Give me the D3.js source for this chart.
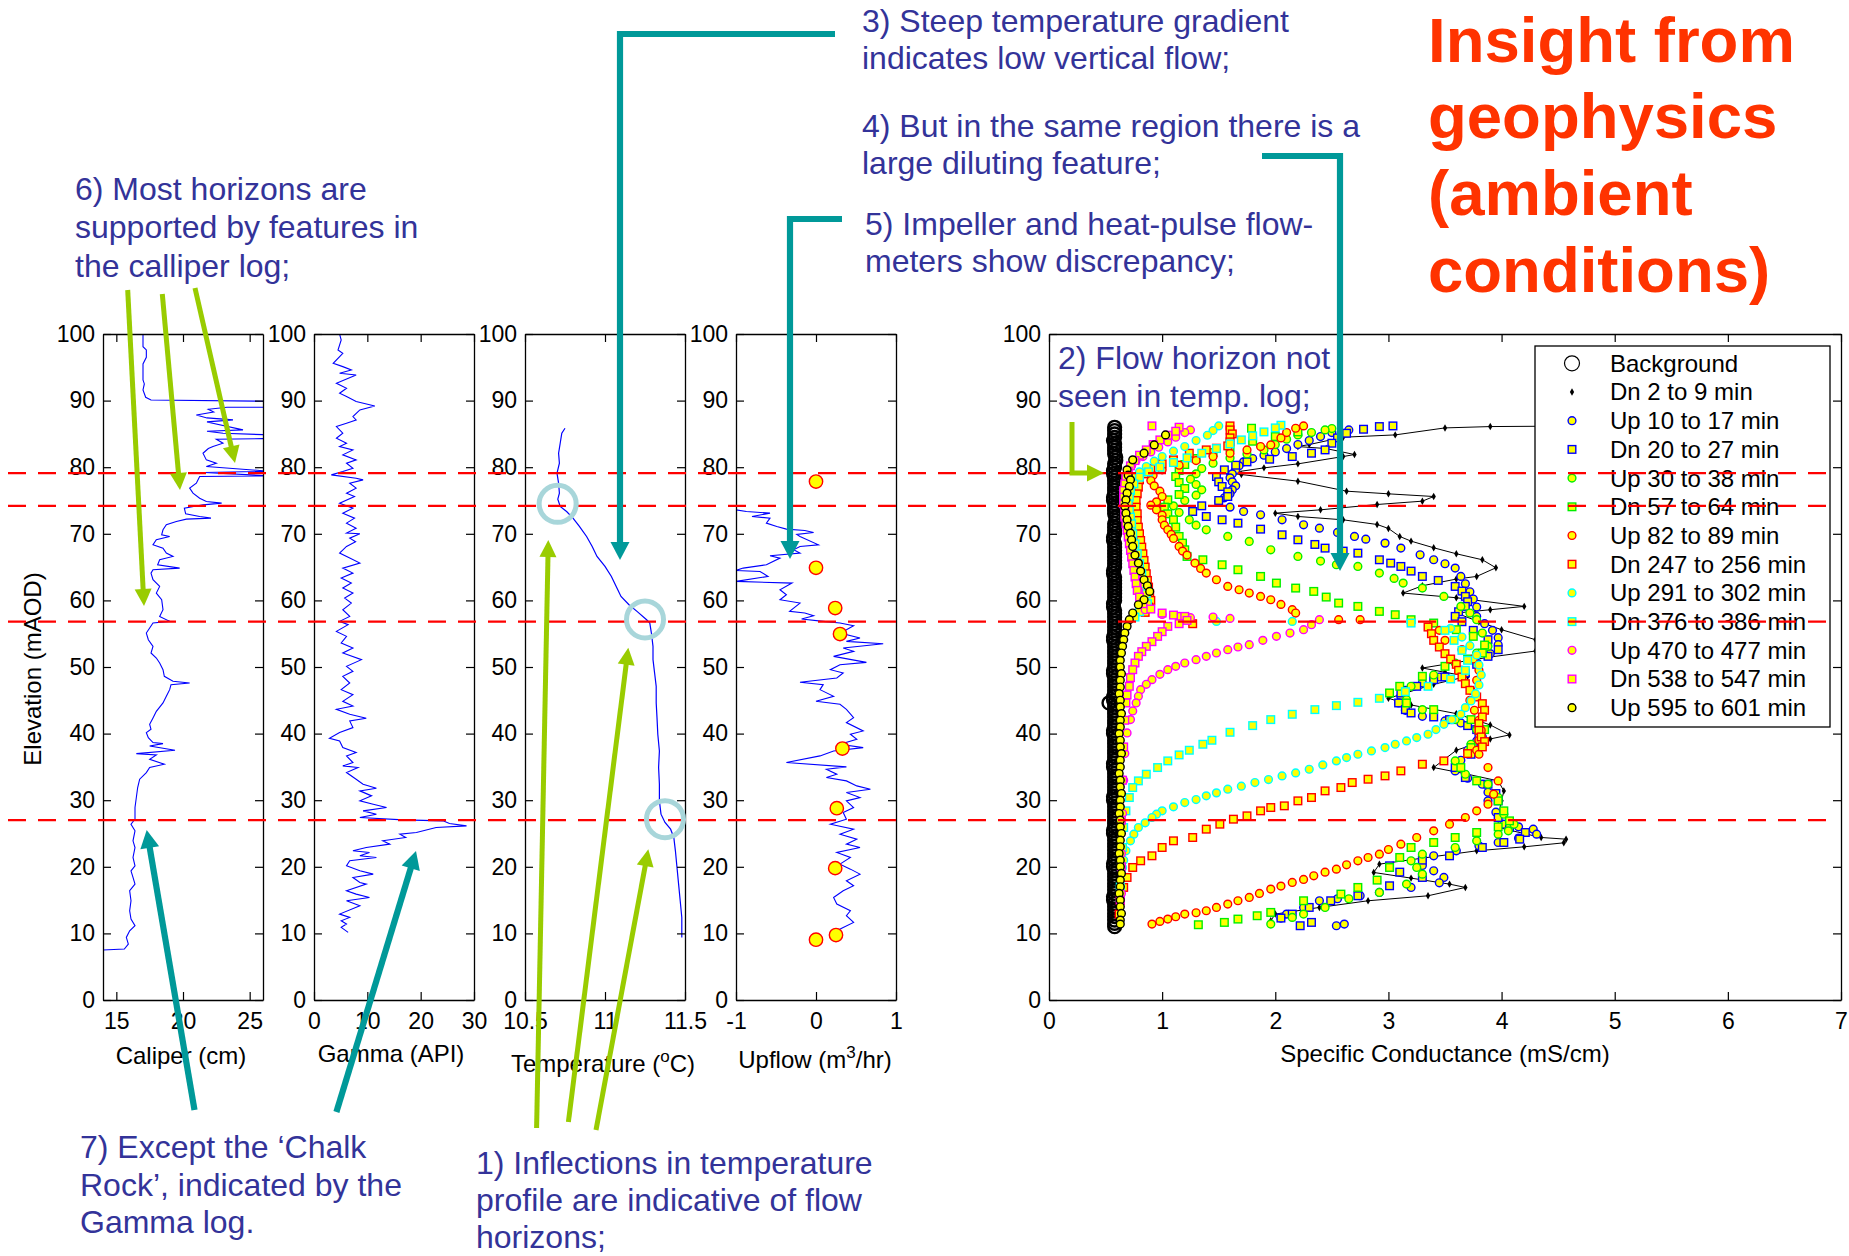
<!DOCTYPE html>
<html>
<head>
<meta charset="utf-8">
<script src="https://cdn.jsdelivr.net/npm/d3@7"></script>
<style>
  html, body { margin: 0; padding: 0; background: #fff; }
  svg { display: block; font-family: Arial, "Liberation Sans", Helvetica, sans-serif; }
</style>
</head>
<body>
<svg id="chart" width="1849" height="1256"></svg>
<script>
// ---------------------------------------------------------------
// Borehole geophysics logs: values are [reading, elevation (mAOD)]
// ---------------------------------------------------------------
const elevationDomain = [0, 100];
const elevationTicks = [0, 10, 20, 30, 40, 50, 60, 70, 80, 90, 100];

const caliperDomain = [14, 26];
const caliperTicks = [15, 20, 25];
const gammaDomain = [0, 30];
const gammaTicks = [0, 10, 20, 30];
const temperatureDomain = [10.5, 11.5];
const temperatureTicks = [10.5, 11, 11.5];
const upflowDomain = [-1, 1];
const upflowTicks = [-1, 0, 1];
const scDomain = [0, 7];
const scTicks = [0, 1, 2, 3, 4, 5, 6, 7];

// flow horizons (mAOD)
const horizonElevations = [79.1, 74.2, 56.8, 27.0];

const caliperLog = [[17.0,100],[17.0,98.1],[17.25,97.6],[17.25,96.5],[17.0,95.5],[17.0,93.1],[17.1,92.5],[17.0,91.6],[17.2,90.5],[17.6,90.1],[26.5,89.9],[26.5,89.0],[23.3,89.0],[21.9,88.7],[22.3,88.3],[21.0,87.85],[21.8,87.4],[23.75,87.1],[21.8,86.8],[24.5,85.6],[21.8,85.4],[23.0,85.1],[26.5,84.85],[26.5,84.3],[22.5,84.2],[23.0,83.6],[22.25,83.1],[21.9,82.8],[21.5,82.1],[21.75,81.1],[22.5,80.6],[21.75,80.1],[26.5,79.4],[21.6,79.2],[26.5,78.7],[21.25,78.6],[21.0,77.6],[20.5,76.85],[20.75,76.1],[21.25,75.35],[21.75,74.85],[22.9,74.6],[21.5,74.35],[20.1,73.85],[20.2,73.0],[21.25,72.6],[22.1,72.35],[20.25,72.2],[19.5,71.85],[18.75,71.35],[18.5,70.6],[18.4,69.85],[19.0,69.6],[18.0,69.1],[17.75,68.35],[18.5,67.85],[18.75,67.1],[19.25,66.6],[18.25,66.1],[18.1,65.35],[19.75,64.85],[17.75,64.6],[17.6,64.1],[17.75,63.1],[18.25,62.1],[18.0,61.1],[18.4,60.1],[18.5,58.6],[18.25,57.6],[19.0,56.85],[17.75,56.6],[17.5,55.85],[17.25,55.1],[17.4,54.1],[17.75,53.1],[17.6,52.1],[18.0,51.35],[18.25,50.6],[18.5,49.6],[18.6,48.6],[19.25,47.85],[20.5,47.6],[19.1,47.35],[19.0,46.6],[18.75,45.6],[18.5,44.6],[18.0,43.35],[17.75,42.35],[17.5,41.4],[17.6,40.65],[17.25,40.15],[17.4,39.4],[17.75,38.65],[18.5,38.5],[17.5,38.15],[19.4,37.5],[16.5,37.0],[18.0,36.8],[17.5,36.15],[18.6,35.4],[17.5,34.9],[17.25,34.15],[16.75,33.15],[16.6,31.9],[16.5,30.4],[16.4,28.9],[16.4,27.15],[16.1,26.4],[16.4,25.4],[16.25,23.9],[16.4,22.9],[16.25,21.4],[16.4,20.15],[16.1,19.4],[16.25,18.4],[16.4,17.4],[16.0,16.4],[16.1,14.9],[16.0,13.4],[16.1,12.15],[16.4,11.15],[16.0,10.4],[15.75,9.4],[15.9,8.4],[15.6,7.65],[14.0,7.5]];

const gammaLog = [[4.8,100],[5.1,99.1],[4.5,97.6],[5.4,97.1],[3.6,95.6],[5.4,95.1],[7.0,94.6],[4.8,94.1],[7.9,93.85],[4.2,92.6],[6.1,91.85],[4.8,91.1],[6.1,90.6],[7.9,89.85],[11.4,89.2],[8.6,88.6],[7.3,87.6],[7.9,87.1],[6.1,86.6],[4.2,86.1],[5.4,85.1],[4.2,84.35],[6.1,83.6],[4.8,83.1],[7.3,82.6],[5.4,81.85],[7.9,81.1],[6.1,80.6],[7.3,79.85],[5.4,79.35],[3.25,78.85],[7.9,78.35],[9.2,78.1],[6.7,77.6],[7.9,76.85],[6.1,76.1],[7.6,75.6],[4.8,74.6],[7.3,73.85],[5.4,73.1],[7.6,72.35],[6.1,71.6],[7.9,70.85],[6.1,70.1],[8.6,70.0],[6.7,69.35],[7.8,68.8],[6.1,68.1],[4.8,67.1],[6.7,66.35],[8.6,65.6],[5.4,64.85],[7.3,64.1],[5.1,63.35],[7.0,62.6],[5.4,61.85],[7.3,61.1],[5.75,60.35],[7.0,59.6],[5.4,58.6],[6.7,57.6],[4.8,56.85],[6.4,56.35],[4.2,55.35],[6.1,54.6],[5.1,53.6],[7.3,52.85],[5.4,52.1],[8.9,51.1],[6.1,50.1],[7.3,49.35],[5.4,48.6],[6.7,47.6],[5.1,46.6],[7.3,45.85],[5.4,44.85],[7.3,44.15],[4.2,43.65],[6.7,42.9],[9.8,42.3],[6.7,41.9],[7.3,40.9],[4.8,40.15],[2.9,39.3],[4.8,38.9],[5.4,37.9],[7.9,37.15],[6.1,36.65],[7.3,35.65],[5.4,35.15],[8.25,34.9],[6.1,34.15],[7.9,33.15],[9.2,32.4],[11.7,31.8],[8.6,31.4],[10.8,30.65],[8.6,29.9],[11.1,29.4],[13.6,28.9],[9.2,28.4],[11.7,27.9],[8.6,27.4],[16.7,27.05],[24.2,26.9],[25.4,26.5],[28.6,26.15],[22.9,25.9],[19.2,25.15],[16.1,24.9],[17.2,24.4],[12.9,23.9],[14.2,23.4],[9.8,22.9],[7.3,22.4],[10.4,22.15],[8.6,21.65],[11.7,21.4],[6.7,20.9],[6.1,20.15],[8.6,19.4],[11.1,18.9],[7.3,18.4],[8.6,17.65],[9.8,17.4],[6.1,16.4],[7.9,15.9],[10.4,15.4],[6.1,14.9],[8.6,14.15],[4.8,12.9],[6.7,12.4],[5.1,11.9],[6.1,11.4],[5.1,10.9],[6.4,10.15]];

const temperatureLog = [[10.75,85.85],[10.73,85.1],[10.72,83.6],[10.71,82.1],[10.715,80.6],[10.70,79.1],[10.71,77.6],[10.715,76.1],[10.705,75.2],[10.72,74.1],[10.76,73.35],[10.80,72.35],[10.84,71.1],[10.885,69.6],[10.92,68.1],[10.95,66.6],[11.0,65.1],[11.04,63.6],[11.07,62.1],[11.1,60.6],[11.15,59.35],[11.2,58.35],[11.26,57.1],[11.28,56.6],[11.29,55.1],[11.30,53.1],[11.30,51.1],[11.31,49.1],[11.32,47.1],[11.32,44.6],[11.325,42.4],[11.33,39.9],[11.34,37.4],[11.335,34.9],[11.34,32.4],[11.34,29.9],[11.35,27.9],[11.375,26.65],[11.41,25.65],[11.43,24.4],[11.44,22.4],[11.45,19.9],[11.46,17.4],[11.47,14.9],[11.48,12.4],[11.48,9.4]];

// inflection points marked on the temperature profile
const temperatureInflections = [[10.704,74.5],[11.25,57.15],[11.375,27.15]];

const impellerUpflow = [[-1.0,73.6],[-0.87,73.35],[-0.575,73.1],[-0.8,72.6],[-0.575,72.35],[-0.62,71.6],[-0.49,71.1],[-0.37,70.7],[-0.14,70.5],[-0.03,70.2],[-0.24,69.9],[-0.2,69.6],[0.03,68.35],[-0.2,68.1],[-0.28,67.6],[-0.2,67.1],[-0.575,66.7],[-0.45,66.35],[-0.62,65.35],[-0.91,64.85],[-1.0,64.5],[-0.7,64.35],[-0.6,63.6],[-1.0,62.85],[-0.3,62.6],[-0.45,61.6],[-0.37,60.85],[-0.45,60.1],[-0.2,59.6],[-0.33,58.35],[-0.14,58.1],[-0.03,57.7],[-0.18,57.2],[0.09,56.85],[0.3,56.6],[0.47,56.2],[0.38,55.6],[0.3,55.1],[0.55,54.35],[0.38,53.85],[0.84,53.5],[0.34,52.85],[0.47,52.35],[0.22,51.6],[0.63,50.7],[0.3,50.35],[0.18,49.6],[0.34,49.1],[0.26,48.35],[-0.2,47.7],[0.09,47.35],[0.05,46.6],[0.22,45.6],[0.0,44.85],[0.3,44.4],[0.38,43.65],[0.47,42.4],[0.38,41.65],[0.59,40.4],[0.43,39.9],[0.51,39.15],[0.3,38.4],[0.59,37.9],[0.22,37.4],[0.05,36.65],[-0.37,35.65],[0.38,35.0],[0.13,34.65],[0.26,33.9],[0.13,33.4],[0.38,32.9],[0.51,32.15],[0.68,31.65],[0.38,31.15],[0.55,30.4],[0.38,29.9],[0.47,28.9],[0.34,28.15],[0.38,27.15],[0.18,26.4],[0.47,25.65],[0.3,24.9],[0.51,24.15],[0.38,23.4],[0.55,22.9],[0.26,22.15],[0.43,21.4],[0.3,20.4],[0.43,19.65],[0.55,18.9],[0.38,17.9],[0.47,17.15],[0.34,16.4],[0.22,15.4],[0.26,14.4],[0.43,13.4],[0.38,12.65],[0.47,11.65],[0.34,10.9],[0.26,10.4]];

const heatPulseUpflow = [[0.0,77.85],[0.0,64.9],[0.24,58.85],[0.3,54.95],[0.33,37.75],[0.26,28.8],[0.24,19.8],[0.25,9.75],[0.0,9.05]];

// ---------------------------------------------------------------
// Specific conductance profiles: [SC (mS/cm), elevation (mAOD)]
// ---------------------------------------------------------------
const legendLabels = ['Background','Dn 2 to 9 min','Up 10 to 17 min','Dn 20 to 27 min','Up 30 to 38 min','Dn 57 to 64 min','Up 82 to 89 min','Dn 247 to 256 min','Up 291 to 302 min','Dn 376 to 386 min','Up 470 to 477 min','Dn 538 to 547 min','Up 595 to 601 min'];

const scBackground = [[0.58,86],[0.58,85.5],[0.58,85],[0.58,84.5],[0.57,84],[0.58,83.5],[0.58,83],[0.58,82.5],[0.58,82],[0.59,81.5],[0.59,81],[0.58,80.5],[0.58,80],[0.57,79.5],[0.57,79],[0.58,78.5],[0.58,78],[0.58,77.5],[0.58,77],[0.58,76.5],[0.58,76],[0.57,75.5],[0.57,75],[0.58,74.5],[0.58,74],[0.58,73.5],[0.58,73],[0.59,72.5],[0.59,72],[0.58,71.5],[0.58,71],[0.58,70.5],[0.58,70],[0.57,69.5],[0.57,69],[0.58,68.5],[0.58,68],[0.58,67.5],[0.58,67],[0.58,66.5],[0.58,66],[0.58,65.5],[0.58,65],[0.57,64.5],[0.57,64],[0.58,63.5],[0.58,63],[0.58,62.5],[0.58,62],[0.58,61.5],[0.58,61],[0.58,60.5],[0.58,60],[0.57,59.5],[0.57,59],[0.58,58.5],[0.58,58],[0.58,57.5],[0.58,57],[0.58,56.5],[0.58,56],[0.58,55.5],[0.58,55],[0.57,54.5],[0.57,54],[0.58,53.5],[0.58,53],[0.58,52.5],[0.58,52],[0.58,51.5],[0.58,51],[0.58,50.5],[0.58,50],[0.57,49.5],[0.57,49],[0.58,48.5],[0.58,48],[0.58,47.5],[0.58,47],[0.58,46.5],[0.58,46],[0.57,45.5],[0.57,45],[0.53,44.6],[0.58,44.5],[0.58,44],[0.58,43.5],[0.58,43],[0.58,42.5],[0.58,42],[0.58,41.5],[0.58,41],[0.57,40.5],[0.57,40],[0.58,39.5],[0.58,39],[0.58,38.5],[0.58,38],[0.58,37.5],[0.58,37],[0.58,36.5],[0.58,36],[0.57,35.5],[0.57,35],[0.58,34.5],[0.58,34],[0.58,33.5],[0.58,33],[0.58,32.5],[0.58,32],[0.58,31.5],[0.58,31],[0.57,30.5],[0.57,30],[0.58,29.5],[0.58,29],[0.58,28.5],[0.58,28],[0.58,27.5],[0.58,27],[0.58,26.5],[0.58,26],[0.57,25.5],[0.57,25],[0.58,24.5],[0.58,24],[0.58,23.5],[0.58,23],[0.58,22.5],[0.58,22],[0.58,21.5],[0.58,21],[0.57,20.5],[0.57,20],[0.58,19.5],[0.58,19],[0.58,18.5],[0.58,18],[0.58,17.5],[0.58,17],[0.58,16.5],[0.58,16],[0.57,15.5],[0.57,15],[0.58,14.5],[0.58,14],[0.58,13.5],[0.58,13],[0.58,12.5],[0.58,12],[0.58,11.5],[0.58,11]];

const scDn2to9 = [[4.8,86.2],[3.9,86.1],[3.5,85.9],[3.06,84.85],[2.6,84.5],[2.3,83.4],[2.2,83.1],[2.45,82.8],[2.7,81.9],[2.6,81.6],[2.2,80.5],[1.9,79.9],[1.58,79.1],[1.7,78.9],[2.2,77.9],[2.63,76.4],[3.0,76.0],[3.4,75.6],[3.3,74.9],[2.9,74.4],[2.4,73.6],[2.0,73.1],[2.2,72.6],[2.6,72.1],[2.9,71.4],[3.0,70.8],[3.1,69.6],[3.2,68.9],[3.4,67.9],[3.6,67.0],[3.83,66.1],[3.95,64.9],[3.78,63.6],[3.6,63.2],[3.3,62.2],[3.13,61.1],[3.6,60.4],[4.2,59.1],[3.9,58.6],[3.6,58.1],[3.8,56.8],[4.0,55.6],[4.3,54.1],[4.6,53.8],[4.6,52.6],[4.3,52.4],[3.9,51.5],[3.3,49.85],[3.5,49.2],[3.7,48.6],[3.4,47.4],[3.0,45.3],[3.2,44.3],[3.6,43.0],[3.9,41.3],[4.07,39.8],[3.9,39.2],[3.6,37.5],[3.4,34.9],[3.7,33.9],[3.97,32.9],[4.02,31.4],[4.0,29.9],[3.97,27.5],[3.97,25.9],[4.35,24.4],[4.57,24.15],[4.55,23.6],[4.2,23.0],[3.78,22.4],[3.3,21.3],[2.92,20.4],[2.87,19.15],[3.2,18.3],[3.54,17.4],[3.68,16.9],[3.35,15.65],[2.82,14.9],[2.39,13.9],[2.0,12.9],[1.96,11.9]];

const scUp10to17 = [[2.65,85.6],[2.5,85.2],[2.4,84.6],[2.3,84.0],[2.2,83.4],[2.1,82.8],[2.0,82.3],[1.9,81.8],[1.8,81.3],[1.72,80.8],[1.68,80.2],[1.65,79.6],[1.62,79.0],[1.6,78.4],[1.62,77.8],[1.65,77.2],[1.62,76.6],[1.6,76.0],[1.55,75.4],[1.5,74.8],[1.6,74.0],[1.72,73.35],[1.87,72.85],[2.06,72.1],[2.25,71.35],[2.39,70.85],[2.55,70.2],[2.7,69.6],[2.8,69.2],[2.97,68.6],[3.11,67.85],[3.28,66.85],[3.4,66.1],[3.5,65.5],[3.59,64.85],[3.64,63.6],[3.68,62.5],[3.72,61.3],[3.75,60.2],[3.78,59.0],[3.78,57.6],[3.85,56.5],[3.92,55.5],[3.97,54.4],[3.97,53.35],[3.9,52.0],[3.78,50.6],[3.64,49.5],[3.45,48.5],[3.3,47.6],[3.15,46.5],[3.11,45.6],[3.09,44.6],[3.15,43.5],[3.3,42.6],[3.5,41.9],[3.64,41.6],[3.83,40.6],[3.83,39.5],[3.78,38.9],[3.7,37.5],[3.64,36.0],[3.59,34.4],[3.7,33.3],[3.83,32.4],[3.88,31.2],[3.88,29.9],[3.95,28.2],[4.02,26.4],[4.15,26.0],[4.28,25.65],[4.31,24.9],[4.15,24.3],[3.97,23.65],[3.8,23.15],[3.6,22.4],[3.4,21.65],[3.3,21.0],[3.3,20.2],[3.4,19.4],[3.49,18.4],[3.45,17.6],[3.2,16.9],[2.92,16.15],[2.75,15.65],[2.55,15.2],[2.39,14.9],[2.25,13.9],[2.1,12.9],[2.05,12.3],[2.54,11.15],[2.61,11.4]];

const scDn20to27 = [[3.04,86.2],[2.92,86.1],[2.78,85.7],[2.63,85.1],[2.55,84.4],[2.5,83.6],[2.44,82.6],[2.32,82.1],[2.15,81.6],[1.95,81.2],[1.75,80.8],[1.65,80.3],[1.55,79.6],[1.48,78.6],[1.5,77.8],[1.53,77.1],[1.58,76.3],[1.58,75.6],[1.5,75.0],[1.35,74.2],[1.27,73.35],[1.39,72.6],[1.53,72.1],[1.67,71.6],[1.87,70.7],[2.06,69.85],[2.2,69.1],[2.35,68.4],[2.44,67.85],[2.6,67.4],[2.73,67.1],[2.92,66.1],[3.02,65.6],[3.11,65.1],[3.2,64.4],[3.3,63.6],[3.44,63.0],[3.59,62.1],[3.65,61.4],[3.68,60.6],[3.7,59.8],[3.68,59.1],[3.62,58.3],[3.59,57.6],[3.65,56.8],[3.75,55.5],[3.88,54.1],[3.97,52.6],[3.88,51.6],[3.78,50.4],[3.68,49.1],[3.5,48.5],[3.4,48.1],[3.25,47.1],[3.11,46.1],[3.09,44.6],[3.15,43.6],[3.2,43.1],[3.4,42.5],[3.54,42.1],[3.7,41.2],[3.78,40.6],[3.8,39.4],[3.75,38.1],[3.73,36.9],[3.59,34.9],[3.68,33.4],[3.88,32.4],[3.95,31.0],[3.97,29.9],[3.97,27.4],[4.07,25.9],[4.21,25.15],[4.16,24.15],[4.02,23.65],[3.83,22.9],[3.54,21.65],[3.3,21.0],[3.01,20.15],[3.1,19.2],[3.3,18.4],[3.01,17.15],[2.73,15.65],[2.49,14.9],[2.3,13.9],[2.15,12.9],[2.05,12.3],[2.22,11.15],[2.32,11.65]];

const scUp30to38 = [[2.5,85.8],[2.44,85.6],[2.32,85.2],[2.2,84.85],[2.1,84.2],[2.0,83.4],[1.9,82.6],[1.75,82.0],[1.6,81.4],[1.45,80.6],[1.35,79.8],[1.3,79.0],[1.25,78.2],[1.3,77.4],[1.35,76.6],[1.3,75.8],[1.2,75.0],[1.1,74.2],[1.15,73.2],[1.24,72.1],[1.3,71.3],[1.39,70.6],[1.58,69.6],[1.77,68.85],[1.96,67.6],[2.2,66.6],[2.4,65.9],[2.54,65.35],[2.73,65.1],[2.92,64.1],[3.05,63.3],[3.13,62.6],[3.3,61.85],[3.49,60.6],[3.64,59.1],[3.72,58.1],[3.78,57.1],[3.83,55.1],[3.88,53.1],[3.78,52.1],[3.59,50.6],[3.4,48.8],[3.2,47.1],[3.16,45.1],[3.3,43.6],[3.59,42.1],[3.78,40.6],[3.73,38.4],[3.59,35.9],[3.68,33.9],[3.88,32.4],[3.97,30.4],[4.02,27.9],[4.11,26.4],[4.06,25.4],[3.97,24.9],[3.78,23.9],[3.59,22.9],[3.3,21.9],[3.2,20.9],[3.25,19.9],[3.3,18.9],[3.16,17.4],[2.92,16.15],[2.65,15.2],[2.44,13.9],[2.25,12.9],[2.15,12.4],[1.96,11.4]];

const scDn57to64 = [[1.79,85.85],[2.2,85.3],[2.0,84.6],[1.8,83.9],[1.6,83.0],[1.45,82.2],[1.3,81.3],[1.2,80.4],[1.15,79.5],[1.12,78.6],[1.15,77.7],[1.2,76.8],[1.15,75.9],[1.05,75.1],[1.02,74.0],[1.05,73.0],[1.1,72.1],[1.12,71.0],[1.15,69.6],[1.18,68.6],[1.2,67.6],[1.22,66.6],[1.36,66.1],[1.53,65.35],[1.67,64.6],[1.87,63.6],[2.01,62.6],[2.18,61.85],[2.34,61.35],[2.45,60.5],[2.56,59.6],[2.73,59.1],[2.92,58.35],[3.06,57.85],[3.2,57.1],[3.4,56.6],[3.6,55.6],[3.75,54.6],[3.85,53.3],[3.83,52.1],[3.7,51.2],[3.5,50.1],[3.3,48.6],[3.1,47.1],[3.01,46.1],[3.16,44.6],[3.4,43.6],[3.73,42.1],[3.85,40.6],[3.73,37.9],[3.64,34.9],[3.78,32.9],[3.97,29.9],[4.02,28.4],[4.07,26.9],[3.97,26.0],[3.78,25.15],[3.59,24.4],[3.4,23.65],[3.2,22.9],[3.1,21.4],[3.01,19.9],[2.9,18.0],[2.73,16.9],[2.58,15.9],[2.25,14.9],[1.96,13.15],[1.84,12.65],[1.67,12.15],[1.55,11.65],[1.32,11.3]];

const scUp82to89 = [[2.25,86.2],[2.18,85.85],[2.1,85.2],[2.05,84.4],[1.96,83.35],[1.87,83.1],[1.75,82.6],[1.6,82.1],[1.45,81.6],[1.3,81.0],[1.15,80.3],[1.0,79.6],[0.92,78.8],[0.9,78.0],[0.93,77.2],[0.98,76.4],[1.0,75.6],[0.95,74.8],[0.9,74.3],[0.95,73.6],[1.0,72.8],[1.0,72.1],[1.02,71.3],[1.05,70.6],[1.08,69.9],[1.1,69.3],[1.15,68.1],[1.18,67.4],[1.22,66.8],[1.29,65.6],[1.34,64.8],[1.39,64.1],[1.48,63.1],[1.58,62.1],[1.68,61.6],[1.77,61.1],[1.87,60.6],[1.96,60.1],[2.05,59.4],[2.15,58.6],[2.18,58.1],[2.56,57.1],[2.75,57.1],[3.45,55.5],[3.5,54.0],[3.65,52.6],[3.75,51.2],[3.8,49.5],[3.78,48.0],[3.73,46.5],[3.72,45.0],[3.76,43.5],[3.8,42.0],[3.82,40.5],[3.8,39.0],[3.78,37.5],[3.8,36.9],[3.88,34.9],[3.97,32.9],[3.93,30.9],[3.88,29.4],[3.78,28.4],[3.68,27.4],[3.54,26.4],[3.4,25.4],[3.25,24.4],[3.11,23.4],[3.0,22.6],[2.92,21.9],[2.82,21.4],[2.73,20.9],[2.63,20.3],[2.54,19.65],[2.44,19.2],[2.34,18.65],[2.25,18.1],[2.15,17.65],[2.05,17.1],[1.96,16.65],[1.86,16.0],[1.77,15.4],[1.67,14.9],[1.58,14.4],[1.48,13.9],[1.39,13.4],[1.3,13.1],[1.2,12.9],[1.12,12.5],[1.05,12.15],[0.98,11.8],[0.91,11.4]];

const scDn247to256 = [[1.6,86.2],[1.6,85.6],[1.62,85.0],[1.6,84.4],[1.6,83.8],[1.58,83.2],[1.48,82.85],[1.39,82.6],[1.24,82.1],[1.1,81.1],[1.0,80.5],[0.9,79.8],[0.84,79.0],[0.8,78.1],[0.79,77.0],[0.78,76.0],[0.77,75.0],[0.77,74.0],[0.78,73.0],[0.78,72.0],[0.79,71.0],[0.8,70.0],[0.81,69.0],[0.82,68.0],[0.83,67.0],[0.84,66.0],[0.85,65.0],[0.86,64.0],[0.87,63.0],[0.88,62.0],[0.89,61.0],[0.9,60.0],[0.88,59.0],[0.85,58.2],[1.27,56.5],[3.35,56.0],[3.38,55.0],[3.4,54.0],[3.45,53.0],[3.5,52.0],[3.55,51.2],[3.6,50.4],[3.62,49.5],[3.65,48.5],[3.68,47.5],[3.72,46.5],[3.78,45.5],[3.83,44.5],[3.85,43.5],[3.83,42.5],[3.8,41.5],[3.8,40.5],[3.82,39.5],[3.85,38.8],[3.83,38.0],[3.7,37.0],[3.49,35.9],[3.3,35.4],[3.11,34.4],[2.97,33.65],[2.82,33.15],[2.68,32.65],[2.58,31.9],[2.44,31.4],[2.32,30.4],[2.2,29.9],[2.08,29.15],[1.96,28.9],[1.87,28.4],[1.75,27.65],[1.63,27.15],[1.51,26.4],[1.39,25.65],[1.27,24.4],[1.1,23.9],[1.0,22.9],[0.91,21.65],[0.81,20.9],[0.74,19.9],[0.69,18.4],[0.66,16.9],[0.63,14.9],[0.62,12.9]];

const scUp291to302 = [[1.5,86.2],[1.45,85.5],[1.4,84.8],[1.3,84.0],[1.2,83.1],[1.1,82.4],[1.0,81.6],[0.93,80.9],[0.86,80.1],[0.8,79.3],[0.75,78.5],[0.72,77.5],[0.7,76.5],[0.69,75.5],[0.69,74.5],[0.7,73.5],[0.71,72.5],[0.72,71.5],[0.73,70.5],[0.74,69.5],[0.75,68.5],[0.76,67.5],[0.77,66.5],[0.78,65.5],[0.79,64.5],[0.8,63.5],[0.81,62.5],[0.82,61.5],[0.83,60.5],[0.84,59.5],[0.8,58.5],[0.76,57.8],[1.48,56.85],[2.15,56.85],[3.55,55.8],[3.65,54.5],[3.72,53.2],[3.78,51.8],[3.8,50.3],[3.82,48.8],[3.8,47.3],[3.77,46.0],[3.73,44.9],[3.68,43.9],[3.64,42.9],[3.56,42.1],[3.49,41.4],[3.42,40.6],[3.35,39.9],[3.25,39.4],[3.16,38.9],[3.06,38.4],[2.97,37.9],[2.85,37.4],[2.73,36.9],[2.63,36.4],[2.54,35.9],[2.42,35.3],[2.3,34.65],[2.18,34.1],[2.06,33.65],[1.94,33.1],[1.82,32.65],[1.7,32.1],[1.58,31.65],[1.48,31.1],[1.39,30.65],[1.3,30.1],[1.2,29.65],[1.1,29.0],[1.0,28.4],[0.95,27.9],[0.91,27.4],[0.85,26.6],[0.79,25.9],[0.75,24.9],[0.72,23.9],[0.68,22.4],[0.66,21.0],[0.65,19.9],[0.63,17.0],[0.63,14.9]];

const scDn376to386 = [[2.05,86.3],[2.0,85.9],[1.9,85.3],[1.8,84.7],[1.7,84.1],[1.6,83.5],[1.48,82.8],[1.35,82.1],[1.22,81.4],[1.1,80.7],[0.98,80.0],[0.88,79.3],[0.8,78.5],[0.75,77.5],[0.72,76.5],[0.71,75.5],[0.7,74.5],[0.71,73.5],[0.72,72.5],[0.73,71.5],[0.74,70.0],[0.76,68.5],[0.78,67.0],[0.8,65.5],[0.82,64.0],[0.84,62.5],[0.86,61.0],[0.87,59.5],[0.8,58.3],[0.76,57.5],[3.2,56.6],[3.5,55.5],[3.58,54.0],[3.65,52.5],[3.7,51.0],[3.68,49.5],[3.55,48.2],[3.35,47.1],[3.15,46.3],[2.92,45.3],[2.73,44.7],[2.54,44.2],[2.35,43.6],[2.15,42.9],[1.96,42.1],[1.8,41.2],[1.6,40.2],[1.44,39.0],[1.36,38.4],[1.24,37.5],[1.15,36.8],[1.05,35.9],[0.96,34.9],[0.86,33.9],[0.79,32.9],[0.74,31.9],[0.71,30.4],[0.68,28.4],[0.66,25.9],[0.65,22.9],[0.64,20.0],[0.63,17.0]];

const scUp470to477 = [[1.25,85.6],[1.2,85.2],[1.12,84.5],[1.05,83.8],[0.97,83.0],[0.9,82.3],[0.83,81.6],[0.77,81.0],[0.73,80.2],[0.7,79.4],[0.68,78.5],[0.67,77.5],[0.66,76.5],[0.66,75.5],[0.66,74.5],[0.67,73.5],[0.68,72.5],[0.69,71.5],[0.7,70.5],[0.71,69.5],[0.72,68.5],[0.73,67.5],[0.74,66.5],[0.75,65.5],[0.76,64.5],[0.77,63.5],[0.78,62.5],[0.79,61.5],[0.8,60.5],[0.82,59.5],[0.85,58.6],[1.0,57.9],[1.15,57.6],[1.25,57.4],[1.45,57.5],[1.6,57.3],[2.39,57.1],[2.32,56.35],[2.25,55.6],[2.13,55.1],[2.01,54.6],[1.89,54.0],[1.77,53.35],[1.67,53.0],[1.58,52.6],[1.48,52.1],[1.39,51.6],[1.3,51.1],[1.2,50.6],[1.12,50.1],[1.05,49.6],[0.98,48.9],[0.91,48.1],[0.86,47.4],[0.81,46.6],[0.79,45.6],[0.77,44.6],[0.74,43.4],[0.72,42.1],[0.69,40.1],[0.67,37.0],[0.66,33.0],[0.65,28.0],[0.64,22.0],[0.64,16.0]];

const scDn538to547 = [[0.91,86.2],[1.15,86.0],[1.12,85.4],[1.05,84.8],[0.98,84.1],[0.92,83.4],[0.86,82.6],[0.8,81.8],[0.76,81.0],[0.72,80.2],[0.7,79.4],[0.68,78.5],[0.67,77.5],[0.66,76.5],[0.66,75.5],[0.66,74.5],[0.67,73.5],[0.67,72.5],[0.68,71.5],[0.69,70.5],[0.7,69.5],[0.71,68.5],[0.72,67.5],[0.73,66.5],[0.74,65.5],[0.75,64.5],[0.76,63.5],[0.77,62.5],[0.78,61.5],[0.8,60.5],[0.83,59.5],[0.9,58.7],[1.0,58.1],[1.1,57.8],[1.2,57.6],[1.22,57.0],[1.15,56.5],[1.05,56.1],[1.0,55.3],[0.96,54.6],[0.91,53.8],[0.86,53.1],[0.82,52.3],[0.79,51.6],[0.76,50.6],[0.74,49.6],[0.72,48.4],[0.71,47.1],[0.69,45.8],[0.68,44.6],[0.67,42.0],[0.66,38.0],[0.65,33.0],[0.64,27.0],[0.64,20.0],[0.63,15.0]];

const scUp595to601 = [[1.03,84.85],[0.93,83.35],[0.84,82.1],[0.74,81.1],[0.69,79.6],[0.7,78.8],[0.72,78.1],[0.71,77.1],[0.69,76.1],[0.68,75.1],[0.67,74.1],[0.68,73.1],[0.69,72.1],[0.7,71.1],[0.72,70.1],[0.73,69.1],[0.74,68.1],[0.76,66.8],[0.79,65.6],[0.81,64.4],[0.84,63.1],[0.87,62.2],[0.89,61.35],[0.84,60.1],[0.79,59.35],[0.74,58.1],[0.71,57.1],[0.69,56.1],[0.67,55.1],[0.66,54.1],[0.65,53.1],[0.64,52.1],[0.63,51.0],[0.63,50.0],[0.64,49.0],[0.63,48.0],[0.63,47.0],[0.62,46.0],[0.63,45.0],[0.63,44.0],[0.64,43.0],[0.63,42.0],[0.63,41.0],[0.62,40.0],[0.63,39.0],[0.63,38.0],[0.64,37.0],[0.63,36.0],[0.63,35.0],[0.62,34.0],[0.63,33.0],[0.63,32.0],[0.64,31.0],[0.63,30.0],[0.63,29.0],[0.62,28.0],[0.63,27.0],[0.63,26.0],[0.64,25.0],[0.63,24.0],[0.63,23.0],[0.62,22.0],[0.63,21.0],[0.63,20.0],[0.64,19.0],[0.63,18.0],[0.63,17.0],[0.62,16.0],[0.63,15.0],[0.63,14.0],[0.64,13.0],[0.63,12.0],[0.63,11.4]];

// ---------------------------------------------------------------
// Layout
// ---------------------------------------------------------------
const W = 1849, H = 1256;
const PLOT_TOP = 334, PLOT_BOTTOM = 1000;
const TICK = 8;
const FONT = 24;
const TICK_FONT = 23;
const NOTE_COLOR = '#333399';
const TEAL = '#009999';
const LIME = '#99cc00';

const svg = d3.select('#chart');
svg.append('rect').attr('width', W).attr('height', H).attr('fill', '#fff');
const defs = svg.append('defs');

const yScale = d3.scaleLinear().domain(elevationDomain).range([PLOT_BOTTOM, PLOT_TOP]);

// Boxed axes with inward ticks on all four sides
function makePanel(id, x0, x1, domain, ticks) {
  const x = d3.scaleLinear().domain(domain).range([x0, x1]);
  const g = svg.append('g').attr('class', 'panel-' + id);

  defs.append('clipPath').attr('id', 'clip-' + id)
    .append('rect').attr('x', x0).attr('y', PLOT_TOP)
    .attr('width', x1 - x0).attr('height', PLOT_BOTTOM - PLOT_TOP);
  const plot = g.append('g').attr('clip-path', `url(#clip-${id})`);

  const axisG = g.append('g');
  const styleAxis = sel => {
    sel.attr('font-family', null).attr('font-size', null);
    sel.selectAll('path.domain').attr('stroke', '#000').attr('stroke-width', 1.3);
    sel.selectAll('.tick line').attr('stroke', '#000').attr('stroke-width', 1.2);
    sel.selectAll('.tick text').attr('fill', '#000').style('font-size', TICK_FONT + 'px');
  };
  const fmt = d => String(d);
  axisG.append('g').attr('transform', `translate(0,${PLOT_BOTTOM})`)
    .call(d3.axisBottom(x).tickValues(ticks).tickSize(-TICK).tickSizeOuter(0).tickPadding(13).tickFormat(fmt))
    .call(styleAxis);
  axisG.append('g').attr('transform', `translate(0,${PLOT_TOP})`)
    .call(d3.axisTop(x).tickValues(ticks).tickSize(-TICK).tickSizeOuter(0).tickFormat(''))
    .call(styleAxis);
  axisG.append('g').attr('transform', `translate(${x0},0)`)
    .call(d3.axisLeft(yScale).tickValues(elevationTicks).tickSize(-TICK).tickSizeOuter(0).tickPadding(8).tickFormat(fmt))
    .call(styleAxis);
  axisG.append('g').attr('transform', `translate(${x1},0)`)
    .call(d3.axisRight(yScale).tickValues(elevationTicks).tickSize(-TICK).tickSizeOuter(0).tickFormat(''))
    .call(styleAxis);
  return { x, plot, g, x0, x1 };
}

const logLine = (x) => d3.line().x(d => x(d[0])).y(d => yScale(d[1]));

// --- caliper
const pCal = makePanel('caliper', 103, 263, caliperDomain, caliperTicks);
pCal.plot.append('path').datum(caliperLog).attr('d', logLine(pCal.x))
  .attr('fill', 'none').attr('stroke', '#0000ff').attr('stroke-width', 1.1);

// --- gamma
const pGam = makePanel('gamma', 314, 474, gammaDomain, gammaTicks);
pGam.plot.append('path').datum(gammaLog).attr('d', logLine(pGam.x))
  .attr('fill', 'none').attr('stroke', '#0000ff').attr('stroke-width', 1.1);

// --- temperature
const pTmp = makePanel('temperature', 525, 685, temperatureDomain, temperatureTicks);
pTmp.plot.append('path').datum(temperatureLog).attr('d', logLine(pTmp.x))
  .attr('fill', 'none').attr('stroke', '#0000ff').attr('stroke-width', 1.2);

// --- upflow
const pUp = makePanel('upflow', 736, 896, upflowDomain, upflowTicks);
pUp.plot.append('path').datum(impellerUpflow).attr('d', logLine(pUp.x))
  .attr('fill', 'none').attr('stroke', '#0000ff').attr('stroke-width', 1.1);
svg.append('g').selectAll('path').data(heatPulseUpflow).join('path')
  .attr('d', d3.symbol(d3.symbolCircle, 140)())
  .attr('transform', d => `translate(${pUp.x(d[0])},${yScale(d[1])})`)
  .attr('fill', '#ffff00').attr('stroke', '#ff0000').attr('stroke-width', 1.4);

// --- specific conductance
const pSC = makePanel('sc', 1049, 1841, scDomain, scTicks);

const scSeries = [
  { label: legendLabels[0],  data: scBackground,  kind: 'open' },
  { label: legendLabels[1],  data: scDn2to9,      kind: 'dot', line: true },
  { label: legendLabels[2],  data: scUp10to17,    kind: 'circle', edge: '#0000ff' },
  { label: legendLabels[3],  data: scDn20to27,    kind: 'square', edge: '#0000ff' },
  { label: legendLabels[4],  data: scUp30to38,    kind: 'circle', edge: '#00ee00' },
  { label: legendLabels[5],  data: scDn57to64,    kind: 'square', edge: '#00ee00' },
  { label: legendLabels[6],  data: scUp82to89,    kind: 'circle', edge: '#ff0000' },
  { label: legendLabels[7],  data: scDn247to256,  kind: 'square', edge: '#ff0000' },
  { label: legendLabels[8],  data: scUp291to302,  kind: 'circle', edge: '#00ffff' },
  { label: legendLabels[9],  data: scDn376to386,  kind: 'square', edge: '#00ffff' },
  { label: legendLabels[10], data: scUp470to477,  kind: 'circle', edge: '#ff00ff' },
  { label: legendLabels[11], data: scDn538to547,  kind: 'square', edge: '#ff00ff' },
  { label: legendLabels[12], data: scUp595to601,  kind: 'circle', edge: '#000000' }
];

function drawMarkers(g, s, pts, legendSize) {
  const sel = g.selectAll(null).data(pts);
  if (s.kind === 'open') {
    sel.join('circle').attr('cx', d => d[0]).attr('cy', d => d[1])
      .attr('r', legendSize ? 7.5 : 6.4).attr('fill', 'none')
      .attr('stroke', '#000').attr('stroke-width', legendSize ? 1.2 : 2.4);
  } else if (s.kind === 'dot') {
    sel.join('path').attr('d', d3.symbol(d3.symbolDiamond, 16)())
      .attr('transform', d => `translate(${d[0]},${d[1]})`).attr('fill', '#000');
  } else if (s.kind === 'circle') {
    sel.join('circle').attr('cx', d => d[0]).attr('cy', d => d[1]).attr('r', 3.9)
      .attr('fill', '#ffff00').attr('stroke', s.edge).attr('stroke-width', 1.4);
  } else {
    sel.join('rect').attr('x', d => d[0] - 3.8).attr('y', d => d[1] - 3.8)
      .attr('width', 7.6).attr('height', 7.6)
      .attr('fill', '#ffff00').attr('stroke', s.edge).attr('stroke-width', 1.4);
  }
}

scSeries.forEach(s => {
  const g = pSC.plot.append('g');
  const pts = s.data.map(d => [pSC.x(d[0]), yScale(d[1])]);
  if (s.line) {
    g.append('path').attr('d', d3.line()(pts)).attr('fill', 'none')
      .attr('stroke', '#000').attr('stroke-width', 1);
  }
  drawMarkers(g, s, pts, false);
});

// legend
const legend = svg.append('g');
const LEG = { x: 1535, y: 346, w: 295, h: 381, row0: 363.3, step: 28.7, mx: 1572, tx: 1610 };
legend.append('rect').attr('x', LEG.x).attr('y', LEG.y).attr('width', LEG.w).attr('height', LEG.h)
  .attr('fill', '#fff').attr('stroke', '#000').attr('stroke-width', 1.3);
scSeries.forEach((s, i) => {
  const yy = LEG.row0 + i * LEG.step;
  drawMarkers(legend.append('g'), s, [[LEG.mx, yy]], true);
  legend.append('text').attr('x', LEG.tx).attr('y', yy).attr('dy', '0.35em')
    .style('font-size', FONT + 'px').attr('fill', '#000').text(s.label);
});

// axis titles
const titles = svg.append('g').style('font-size', FONT + 'px').attr('fill', '#000').attr('text-anchor', 'middle');
titles.append('text').attr('x', 181).attr('y', 1064).text('Caliper (cm)');
titles.append('text').attr('x', 391).attr('y', 1062).text('Gamma (API)');
const tT = titles.append('text').attr('x', 603).attr('y', 1072);
tT.append('tspan').text('Temperature (');
tT.append('tspan').attr('dy', -10).style('font-size', '17px').text('o');
tT.append('tspan').attr('dy', 10).text('C)');
const tU = titles.append('text').attr('x', 815).attr('y', 1068);
tU.append('tspan').text('Upflow (m');
tU.append('tspan').attr('dy', -10).style('font-size', '17px').text('3');
tU.append('tspan').attr('dy', 10).text('/hr)');
titles.append('text').attr('x', 1445).attr('y', 1062).text('Specific Conductance (mS/cm)');
titles.append('text').attr('transform', 'translate(41,669) rotate(-90)').text('Elevation (mAOD)');

// flow horizons (dashed), spanning all logs
svg.append('g').selectAll('line').data(horizonElevations).join('line')
  .attr('x1', 8).attr('x2', 1826)
  .attr('y1', d => yScale(d)).attr('y2', d => yScale(d))
  .attr('stroke', '#ff0000').attr('stroke-width', 2.2).attr('stroke-dasharray', '18 12');

// inflection rings on the temperature profile
svg.append('g').selectAll('circle').data(temperatureInflections).join('circle')
  .attr('cx', d => pTmp.x(d[0])).attr('cy', d => yScale(d[1])).attr('r', 18.5)
  .attr('fill', 'none').attr('stroke', '#a8d6da').attr('stroke-width', 5);

// callout arrows
function arrow(pts, color, width, headLen, headHalf) {
  const n = pts.length;
  const [tx, ty] = pts[n - 1], [px, py] = pts[n - 2];
  const L = Math.hypot(tx - px, ty - py), ux = (tx - px) / L, uy = (ty - py) / L;
  const bx = tx - ux * headLen, by = ty - uy * headLen;
  const shaft = pts.slice(0, n - 1).concat([[bx + ux, by + uy]]);
  svg.append('path').attr('d', d3.line()(shaft)).attr('fill', 'none')
    .attr('stroke', color).attr('stroke-width', width).attr('stroke-linejoin', 'miter');
  svg.append('path')
    .attr('d', `M${tx},${ty}L${bx - uy * headHalf},${by + ux * headHalf}L${bx + uy * headHalf},${by - ux * headHalf}Z`)
    .attr('fill', color);
}

const tealArrows = [
  [[835, 34], [620, 34], [620, 560]],
  [[1262, 156], [1340, 156], [1340, 571]],
  [[842, 219], [790, 219], [790, 559]],
  [[194.5, 1110], [146.7, 830]],
  [[336.4, 1112], [416, 851]]
];
const limeArrows = [
  [[127.7, 290], [144, 606]],
  [[162.3, 294], [180, 490]],
  [[195, 288], [235, 463]],
  [[536.6, 1128], [548.3, 540]],
  [[568.4, 1122], [628.3, 647.7]],
  [[596, 1130], [648.3, 849.3]],
  [[1072, 422], [1072, 473], [1104, 473]]
];
tealArrows.forEach(a => arrow(a, TEAL, 6.2, 18, 9.5));
limeArrows.forEach(a => arrow(a, LIME, 5, 17, 8.5));

// notes
const notes = [
  { lines: ['3) Steep temperature gradient', 'indicates low vertical flow;'], x: 862, y: 32, lh: 37 },
  { lines: ['4) But in the same region there is a', 'large diluting feature;'], x: 862, y: 137, lh: 37 },
  { lines: ['5) Impeller and heat-pulse flow-', 'meters show discrepancy;'], x: 865, y: 235, lh: 37 },
  { lines: ['6) Most horizons are', 'supported by features in', 'the calliper log;'], x: 75, y: 200, lh: 38.3 },
  { lines: ['2) Flow horizon not', 'seen in temp. log;'], x: 1058, y: 369, lh: 38 },
  { lines: ['7) Except the \u2018Chalk', 'Rock\u2019, indicated by the', 'Gamma log.'], x: 80, y: 1158, lh: 37.5 },
  { lines: ['1) Inflections in temperature', 'profile are indicative of flow', 'horizons;'], x: 476, y: 1174, lh: 37 }
];
const noteG = svg.append('g').style('font-size', '32px').attr('fill', NOTE_COLOR);
notes.forEach(n => {
  const t = noteG.append('text').attr('x', n.x).attr('y', n.y);
  n.lines.forEach((line, i) => t.append('tspan').attr('x', n.x).attr('y', n.y + i * n.lh).text(line));
});

// headline
const headline = ['Insight from', 'geophysics', '(ambient', 'conditions)'];
const head = svg.append('text').attr('x', 1428).attr('y', 61.7)
  .style('font-size', '63.5px').style('font-weight', 'bold').attr('fill', '#ff3300');
headline.forEach((line, i) => head.append('tspan').attr('x', 1428).attr('y', 61.7 + i * 76.7).text(line));
</script>
</body>
</html>
